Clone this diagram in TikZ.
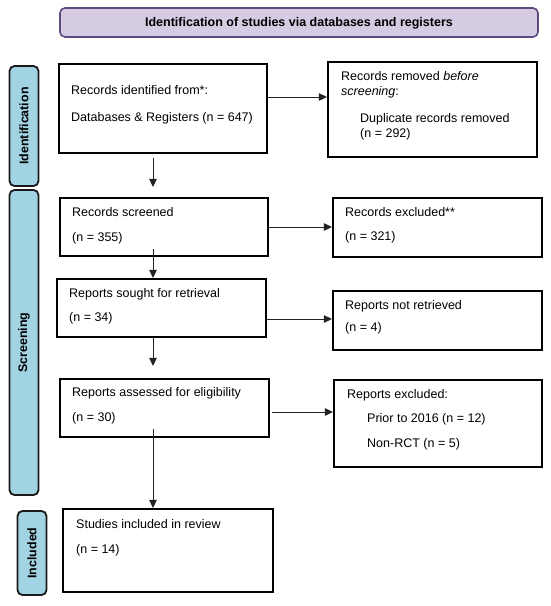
\documentclass[tikz,border=0pt]{standalone}
\usepackage{fontspec}
\setmainfont{Liberation Sans}
\usetikzlibrary{arrows.meta}
\definecolor{banfill}{HTML}{D5CBE3}
\definecolor{bandraw}{HTML}{5E4A7E}
\definecolor{sidefill}{HTML}{A2D3E2}
\definecolor{arrcol}{HTML}{222222}
\tikzset{
  box/.style={draw=black, line width=2.2pt, fill=white, inner sep=0pt},
  side/.style={draw=black!90, line width=1.8pt, fill=sidefill, rounded corners=5pt, inner sep=0pt},
  banner/.style={draw=bandraw, line width=1.6pt, fill=banfill, rounded corners=5pt, inner sep=0pt},
  txt/.style={inner sep=0pt, anchor=base west, font=\fontsize{12.5}{14}\selectfont},
  sidetxt/.style={inner sep=0pt, rotate=90, font=\fontsize{12.4}{14}\selectfont\bfseries},
  arr/.style={draw=arrcol, line width=1pt, -{Triangle[length=8pt,width=7.5pt]}}
}
\begin{document}
\begin{tikzpicture}[x=1pt,y=-1pt]
\useasboundingbox (0,0) rectangle (550,606);
% banner
\node[banner, minimum width=478, minimum height=29] (ban) at (299,22.5) {};
\node[inner sep=0pt, font=\fontsize{12.5}{14}\selectfont\bfseries] (bant) at (299,23.5) {Identification of studies via databases and registers};
% side bars
\node[side, minimum width=29, minimum height=120] (sid) at (24,126) {};
\node[sidetxt] (sidt) at (24,126) {Identification};
\node[side, minimum width=29, minimum height=305] (sscr) at (24,342.5) {};
\node[sidetxt] (sscrt) at (24,342.5) {Screening};
\node[side, minimum width=29, minimum height=84] (sinc) at (32,553) {};
\node[sidetxt] (sinct) at (32,553) {Included};
% main boxes
\node[box, minimum width=208, minimum height=89] (b1) at (163,108.5) {};
\node[txt] (b1a) at (71,94.5) {Records identified from*:};
\node[txt] (b1b) at (71,121.5) {Databases \& Registers (n = 647)};

\node[box, minimum width=209, minimum height=95] (rem) at (432.5,109.5) {};
\node[txt] (rema) at (341,80.5) {Records removed \textit{before}};
\node[txt] (remb) at (341,95.5) {\textit{screening}:};
\node[txt] (remc) at (360,122.5) {Duplicate records removed};
\node[txt] (remd) at (360,137.5) {(n = 292)};

\node[box, minimum width=208, minimum height=58] (scr) at (164,227) {};
\node[txt] (scra) at (72,216.5) {Records screened};
\node[txt] (scrb) at (72,241.5) {(n = 355)};

\node[box, minimum width=209, minimum height=59] (exc) at (437.5,227.5) {};
\node[txt] (exca) at (345,216.5) {Records excluded**};
\node[txt] (excb) at (345,240.5) {(n = 321)};

\node[box, minimum width=209, minimum height=58] (sou) at (161.5,308) {};
\node[txt] (soua) at (69,297.5) {Reports sought for retrieval};
\node[txt] (soub) at (69,321.5) {(n = 34)};

\node[box, minimum width=209, minimum height=59] (nre) at (437.5,320.5) {};
\node[txt] (nrea) at (345,309.5) {Reports not retrieved};
\node[txt] (nreb) at (345,331.5) {(n = 4)};

\node[box, minimum width=209, minimum height=58] (ass) at (164.5,408) {};
\node[txt] (assa) at (72,396.5) {Reports assessed for eligibility};
\node[txt] (assb) at (72,421.5) {(n = 30)};

\node[box, minimum width=208, minimum height=87] (rex) at (438,423.5) {};
\node[txt] (rexa) at (347,398.5) {Reports excluded:};
\node[txt] (rexb) at (367,422.5) {Prior to 2016 (n = 12)};
\node[txt] (rexc) at (367,447.5) {Non-RCT (n = 5)};

\node[box, minimum width=210, minimum height=83] (inc) at (168,550.5) {};
\node[txt] (inca) at (76,528.5) {Studies included in review};
\node[txt] (incb) at (76,553.5) {(n = 14)};

% helper coordinates
\coordinate (cx) at (153,0);
\coordinate (y1) at (0,97);
\coordinate (y2) at (0,227);
\coordinate (y3) at (0,319);
\coordinate (y4) at (0,412);
% vertical arrows
\draw[arr, shorten <=4pt, shorten >=10pt] (b1.south -| cx) -- (scr.north -| cx);
\draw[arr, shorten <=-8pt] (scr.south -| cx) -- (sou.north -| cx);
\draw[arr, shorten >=12pt] (sou.south -| cx) -- (ass.north -| cx);
\draw[arr, shorten <=-9pt] (ass.south -| cx) -- (inc.north -| cx);
% horizontal arrows
\draw[arr] (b1.east |- y1) -- (rem.west |- y1);
\draw[arr] (scr.east |- y2) -- (exc.west |- y2);
\draw[arr] (sou.east |- y3) -- (nre.west |- y3);
\draw[arr, shorten <=2pt] (ass.east |- y4) -- (rex.west |- y4);
\end{tikzpicture}
\end{document}
